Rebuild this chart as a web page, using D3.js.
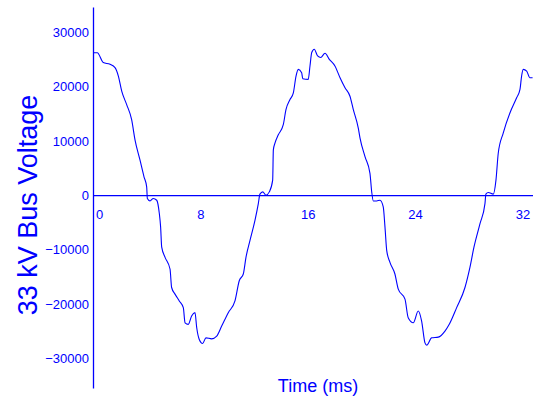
<!DOCTYPE html>
<html>
<head>
<meta charset="utf-8">
<script src="https://cdn.jsdelivr.net/npm/d3@7"></script>
<style>
  body { margin: 0; background: #fff; }
  svg { display: block; font-family: "Liberation Sans", Arial, sans-serif; }
  .tick text { fill: #0000ff; font-size: 13px; }
</style>
</head>
<body>
<svg width="533" height="403"></svg>
<script>
// time in ms
var timeMs = [0, 0.32, 0.77, 1.27, 1.64, 1.89, 2.14, 2.51, 2.88, 3.13, 3.5, 3.8, 4.0, 4.05, 4.25, 4.49, 4.75, 4.94, 5.04, 5.12, 5.37, 5.74, 5.86, 6.11, 6.43,
  6.73, 6.86, 7.1, 7.35, 7.6, 7.73, 7.92, 8.17, 8.42, 8.84, 9.22, 9.59, 10.08, 10.58, 10.9, 11.2, 11.4, 11.7, 12.07, 12.32, 12.44, 12.65, 12.89, 13.14,
  13.39, 13.44, 13.56, 13.81, 14.18, 14.38, 14.68, 14.93, 15.13, 15.3, 15.55, 15.63, 16.04, 16.17, 16.3, 16.49, 16.74, 16.97, 17.29, 17.61, 18.03, 18.41, 18.78, 19.15, 19.4, 19.77, 19.9,
  20.27, 20.64, 20.77, 20.89, 21.14, 21.39, 21.63, 21.76, 21.89, 22.13, 22.5, 22.75, 23.25, 23.49, 23.87, 24.24, 24.49, 24.74, 24.87, 25.24, 25.73, 26.23, 26.55,
  27.1, 27.72, 28.09, 28.39, 28.84, 29.21, 29.28, 29.46, 29.83, 30.03, 30.2, 30.57, 31.07, 31.57, 31.82, 31.94, 32.06, 32.32, 32.56, 32.76];

// bus voltage (V)
var voltage = [26200, 26200, 24390, 24080, 23460, 21910, 19130, 16670, 13890, 10190, 6480, 3390, 1540, -610, -1060, -610, -930, -3330, -5870, -9570, -11430, -13580, -16980, -18200, -19450,
  -20690, -23470, -23760, -22220, -21610, -24390, -26540, -27280, -26240, -26430, -25930, -24080, -21610, -19450, -15740, -14500, -11430, -8330, -4630, -1540, 190, 610, 0, 610,
  2780, 8330, 9570, 11110, 12960, 15740, 17590, 18830, 21910, 23150, 22540, 21430, 21300, 23760, 26240, 26850, 25610, 25320, 26110, 25000, 23760, 21610, 19760, 18200, 15740, 12350, 10500,
  7090, 4020, 610, -1060, -1060, -930, -2170, -5870, -10190, -12350, -14500, -17280, -19130, -22540, -23460, -21300, -23150, -27170, -27590, -26240, -26110, -25000, -23760,
  -20690, -16980, -13280, -9570, -5240, -1540, 190, 500, 190, 2780, 7720, 11430, 15130, 17910, 19450, 21910, 23150, 22830, 21610, 21610];

var xTicks = [0, 8, 16, 24, 32];
var yTicks = [-30000, -20000, -10000, 0, 10000, 20000, 30000];

var blue = "#0000ff";
var svg = d3.select("svg");

var data = timeMs.map(function(t, i) { return { t: t, v: voltage[i] }; });

var x = d3.scaleLinear().domain([0, 32.79]).range([93, 533]);
var y = d3.scaleLinear().domain([-35470, 34620]).range([388, 7]);

// vertical axis with labels
var yAxis = svg.append("g")
  .attr("transform", "translate(" + x(0) + ",0)")
  .call(d3.axisLeft(y).tickValues(yTicks).tickSize(0).tickPadding(4).tickFormat(d3.format("d")));
yAxis.select(".domain").attr("stroke", blue).attr("stroke-width", 1.3);

// horizontal zero line with time labels
var xAxis = svg.append("g")
  .attr("transform", "translate(0," + y(0) + ")")
  .call(d3.axisBottom(x).tickValues(xTicks).tickSize(0).tickPadding(15));
xAxis.select(".domain").attr("stroke", blue).attr("stroke-width", 1.3);
xAxis.selectAll(".tick text").filter(function(d) { return d === 0; }).attr("dx", 6);

// waveform
var line = d3.line()
  .x(function(d) { return x(d.t); })
  .y(function(d) { return y(d.v); })
  .curve(d3.curveMonotoneX);

svg.append("path")
  .datum(data)
  .attr("fill", "none")
  .attr("stroke", blue)
  .attr("stroke-width", 1.1)
  .attr("d", line);

// axis titles
svg.append("text")
  .attr("transform", "translate(37,205) rotate(-90)")
  .attr("text-anchor", "middle")
  .attr("fill", blue)
  .style("font-size", "27px")
  .text("33 kV Bus Voltage");

svg.append("text")
  .attr("x", 318)
  .attr("y", 392)
  .attr("text-anchor", "middle")
  .attr("fill", blue)
  .style("font-size", "18px")
  .text("Time (ms)");
</script>
</body>
</html>
